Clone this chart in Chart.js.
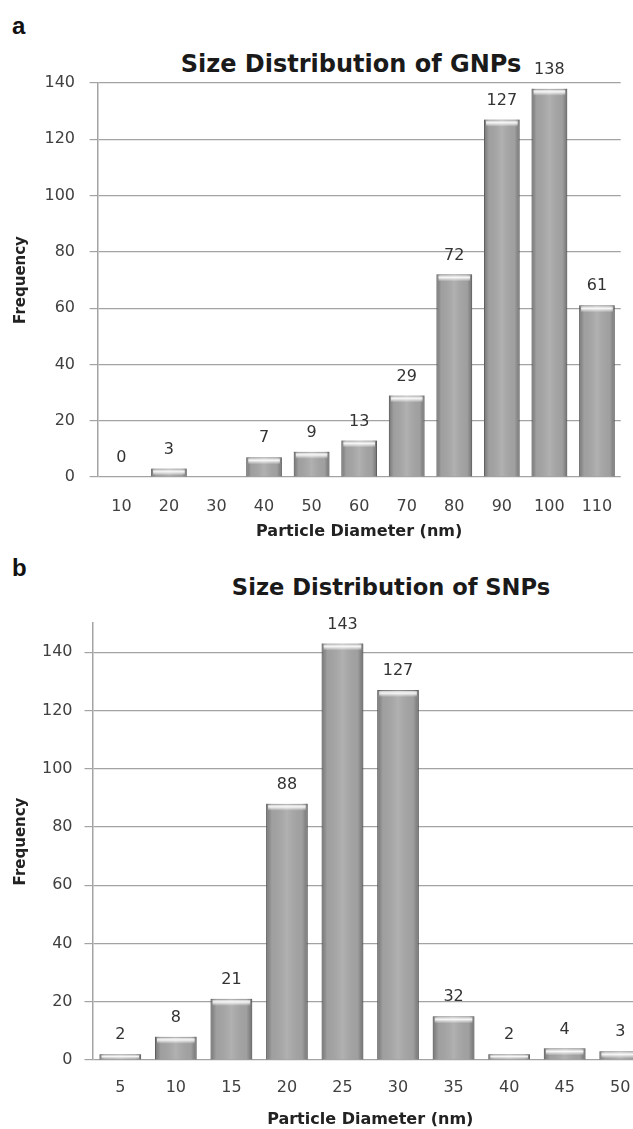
<!DOCTYPE html>
<html>
<head>
<meta charset="utf-8">
<script src="https://cdn.jsdelivr.net/npm/chart.js@4.4.1/dist/chart.umd.min.js"></script>
<style>
  body { margin: 0; width: 633px; height: 1129px; overflow: hidden; background: #fff; position: relative; }
  .panel { position: absolute; font-family: "Liberation Sans", Arial, sans-serif; font-weight: bold; font-size: 24px; line-height: 24px; color: #111; }
  .title { position: absolute; font-family: "DejaVu Sans", sans-serif; font-weight: bold; white-space: nowrap; transform: translateX(-50%); color: #1a1a1a; }
  #wrapA { position: absolute; left: 0; top: 0; width: 633px; height: 545px; }
  #wrapB { position: absolute; left: 0; top: 545px; width: 650px; height: 584px; }
</style>
</head>
<body>
<div class="panel" style="left:12px; top:14px;">a</div>
<div class="title" style="left:351px; top:52px; font-size:24px; line-height:24px;">Size Distribution of GNPs</div>
<div id="wrapA"><canvas id="chartA" width="633" height="545"></canvas></div>
<div class="panel" style="left:12px; top:556px;">b</div>
<div class="title" style="left:391px; top:576px; font-size:22.6px; line-height:22.6px;">Size Distribution of SNPs</div>
<div id="wrapB"><canvas id="chartB" width="650" height="584"></canvas></div>
<script>
// panel a - gold nanoparticles
var gnpSizes = ['10', '20', '30', '40', '50', '60', '70', '80', '90', '100', '110'];
var gnpCounts = [0, 3, 0.3, 7, 9, 13, 29, 72, 127, 138, 61];
var gnpLabels = ['0', '3', '', '7', '9', '13', '29', '72', '127', '138', '61'];

// panel b - silver nanoparticles
var snpSizes = ['5', '10', '15', '20', '25', '30', '35', '40', '45', '50'];
var snpCounts = [2, 8, 21, 88, 143, 127, 15, 2, 4, 3];
var snpLabels = ['2', '8', '21', '88', '143', '127', '32', '2', '4', '3'];

var xTitle = 'Particle Diameter (nm)';
var yTitle = 'Frequency';

// shading so the bars look like the excel 3d columns
var barShade = {
  id: 'barShade',
  afterDatasetsDraw: function (chart) {
    var ctx = chart.ctx;
    chart.getDatasetMeta(0).data.forEach(function (bar) {
      var left = bar.x - bar.width / 2;
      var h = bar.base - bar.y;
      if (h <= 0.5) return;
      ctx.save();
      var g = ctx.createLinearGradient(left, 0, left + bar.width, 0);
      g.addColorStop(0, 'rgba(0,0,0,0.30)');
      g.addColorStop(0.14, 'rgba(0,0,0,0.05)');
      g.addColorStop(0.5, 'rgba(255,255,255,0.10)');
      g.addColorStop(0.86, 'rgba(0,0,0,0.05)');
      g.addColorStop(1, 'rgba(0,0,0,0.32)');
      ctx.fillStyle = g;
      ctx.fillRect(left, bar.y, bar.width, h);
      var capH = Math.min(7, h);
      var c = ctx.createLinearGradient(0, bar.y, 0, bar.y + capH);
      c.addColorStop(0, 'rgba(255,255,255,0.25)');
      c.addColorStop(0.45, 'rgba(255,255,255,0.9)');
      c.addColorStop(1, 'rgba(255,255,255,0)');
      ctx.fillStyle = c;
      ctx.fillRect(left + 2, bar.y + 1, bar.width - 4, capH);
      ctx.restore();
    });
  }
};

// value text above each bar
var barText = {
  id: 'barText',
  afterDatasetsDraw: function (chart, args, opts) {
    var ctx = chart.ctx;
    ctx.save();
    ctx.font = '16px "DejaVu Sans"';
    ctx.fillStyle = '#333';
    ctx.textAlign = 'center';
    ctx.textBaseline = 'middle';
    chart.getDatasetMeta(0).data.forEach(function (bar, i) {
      ctx.fillText(opts.labels[i], bar.x, bar.y - 19);
    });
    ctx.restore();
  }
};

function makeChart(id, cats, vals, texts, cfg) {
  return new Chart(document.getElementById(id), {
    type: 'bar',
    data: {
      labels: cats,
      datasets: [{
        data: vals,
        backgroundColor: '#a8a8a8',
        borderColor: '#858585',
        borderWidth: 1,
        categoryPercentage: 1,
        barPercentage: 0.75
      }]
    },
    plugins: [barShade, barText],
    options: {
      responsive: false,
      animation: false,
      devicePixelRatio: 1,
      layout: { padding: { top: cfg.top, right: cfg.right, left: 0, bottom: 0 } },
      plugins: {
        legend: { display: false },
        tooltip: { enabled: false },
        barText: { labels: texts }
      },
      scales: {
        x: {
          afterFit: function (s) { s.height = cfg.xHeight; },
          grid: { display: false, drawTicks: false },
          border: { display: false },
          ticks: { padding: cfg.xPad, color: '#404040', font: { family: 'DejaVu Sans', size: 16 } },
          title: {
            display: true,
            text: xTitle,
            color: '#222',
            font: { family: 'DejaVu Sans', size: 16, weight: 'bold' },
            padding: { top: cfg.xTitleTop, bottom: cfg.xTitleBottom }
          }
        },
        y: {
          min: 0,
          max: cfg.yMax,
          afterFit: function (s) { s.width = cfg.axisLeft; },
          grid: { color: '#a3a3a3', lineWidth: 1.2, tickLength: 8 },
          border: { color: '#a3a3a3', width: 1.5 },
          ticks: {
            stepSize: 20,
            includeBounds: false,
            padding: cfg.yPad,
            color: '#404040',
            font: { family: 'DejaVu Sans', size: 16 }
          },
          title: {
            display: true,
            text: yTitle,
            color: '#222',
            font: { family: 'DejaVu Sans', size: 15, weight: 'bold' },
            padding: { top: 12, bottom: 0 }
          }
        }
      }
    }
  });
}

makeChart('chartA', gnpSizes, gnpCounts, gnpLabels, {
  top: 83, right: 8.4, axisLeft: 97.6, yMax: 140, yPad: 14.6,
  xHeight: 68, xPad: 20.4, xTitleTop: 5.8, xTitleBottom: 3.4
});
makeChart('chartB', snpSizes, snpCounts, snpLabels, {
  top: 78, right: 2, axisLeft: 92.5, yMax: 150, yPad: 12,
  xHeight: 69, xPad: 18.4, xTitleTop: 12.8, xTitleBottom: 0
});
</script>
</body>
</html>
